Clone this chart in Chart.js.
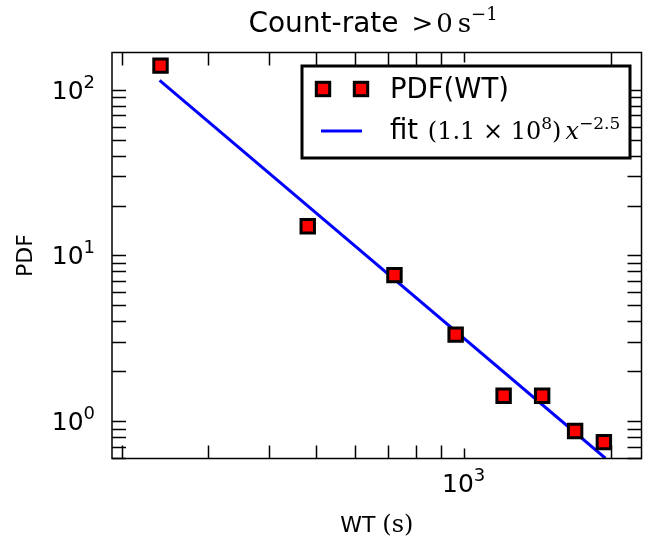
<!DOCTYPE html>
<html>
<head>
<meta charset="utf-8">
<script src="https://cdn.jsdelivr.net/npm/chart.js@4.4.1/dist/chart.umd.min.js"></script>
<style>
  html, body { margin: 0; padding: 0; background: #fff; }
  #wrap { width: 654px; height: 539px; }
</style>
</head>
<body>
<div id="wrap"><canvas id="chart" width="654" height="539"></canvas></div>
<script>
// Data
const waitTimes = [240, 480, 722, 963, 1207, 1447, 1690, 1935];
const pdfValues = [140, 15.0, 7.6, 3.32, 1.42, 1.42, 0.87, 0.745];
const fitTimes = [239, 1949];
const fitValues = [114, 0.595];

// Axis ticks
const xTicks = [200, 300, 400, 500, 600, 700, 800, 900, 1000, 2000];
const xMajor = [1000];
const yTicks = [0.6, 0.7, 0.8, 0.9, 1, 2, 3, 4, 5, 6, 7, 8, 9, 10, 20, 30, 40, 50, 60, 70, 80, 90, 100];
const yMajor = [1, 10, 100];

const SANS = '"DejaVu Sans", sans-serif';
const SERIF = '"DejaVu Serif", serif';

// draw a row of text pieces with different fonts / offsets
function drawRuns(ctx, runs, x, y, align) {
    let total = 0;
    runs.forEach(r => { ctx.font = r.font; r.w = ctx.measureText(r.t).width + (r.gap || 0); total += r.w; });
    let cx = align === 'center' ? x - total / 2 : (align === 'right' ? x - total : x);
    ctx.textAlign = 'left';
    ctx.textBaseline = 'alphabetic';
    runs.forEach(r => {
        ctx.font = r.font;
        ctx.fillText(r.t, cx, y + (r.dy || 0));
        cx += r.w;
    });
}

function powerLabel(exp) {
    return [
        { t: '10', font: '25px ' + SANS },
        { t: String(exp), font: '18px ' + SANS, dy: -11 }
    ];
}

// frame, ticks, labels, title and legend in matplotlib classic style
const decor = {
    id: 'decor',
    afterDatasetsDraw(chart) {
        const ctx = chart.ctx;
        const a = chart.chartArea;
        const xs = chart.scales.x, ys = chart.scales.y;
        ctx.save();
        ctx.strokeStyle = '#000';
        ctx.fillStyle = '#000';

        // ticks on all four sides, pointing in
        ctx.lineWidth = 1.5;
        ctx.beginPath();
        xTicks.forEach(v => {
            const px = Math.round(xs.getPixelForValue(v)) + 0.5;
            const len = xMajor.includes(v) ? 10 : 13;
            ctx.moveTo(px, a.bottom); ctx.lineTo(px, a.bottom - len);
            ctx.moveTo(px, a.top); ctx.lineTo(px, a.top + len);
        });
        yTicks.forEach(v => {
            const py = Math.round(ys.getPixelForValue(v)) + 0.5;
            ctx.moveTo(a.left, py); ctx.lineTo(a.left + 14, py);
            ctx.moveTo(a.right, py); ctx.lineTo(a.right - 14, py);
        });
        ctx.stroke();

        // frame
        ctx.lineWidth = 1.5;
        ctx.strokeRect(a.left, a.top, a.right - a.left, a.bottom - a.top);

        // tick labels
        yMajor.forEach(v => {
            const py = ys.getPixelForValue(v);
            drawRuns(ctx, powerLabel(Math.round(Math.log10(v))), 95, py + 9, 'right');
        });
        xMajor.forEach(v => {
            const px = xs.getPixelForValue(v);
            drawRuns(ctx, powerLabel(Math.round(Math.log10(v))), px, 492, 'center');
        });

        // axis titles
        drawRuns(ctx, [
            { t: 'WT ', font: '22px ' + SANS },
            { t: '(s)', font: '24px ' + SERIF }
        ], (a.left + a.right) / 2, 532, 'center');

        ctx.save();
        ctx.translate(32, (a.top + a.bottom) / 2);
        ctx.rotate(-Math.PI / 2);
        drawRuns(ctx, [{ t: 'PDF', font: '22px ' + SANS }], 0, 0, 'center');
        ctx.restore();

        // title
        drawRuns(ctx, [
            { t: 'Count-rate ', font: '28px ' + SANS, gap: 4 },
            { t: '>', font: '26px ' + SERIF, gap: 3 },
            { t: '0', font: '26px ' + SERIF, gap: 5 },
            { t: 's', font: '26px ' + SERIF },
            { t: '\u22121', font: '18px ' + SERIF, dy: -12 }
        ], 373, 32, 'center');

        // legend box
        ctx.fillStyle = '#fff';
        ctx.fillRect(302, 66, 328, 92);
        ctx.lineWidth = 3;
        ctx.strokeStyle = '#000';
        ctx.strokeRect(302, 66, 328, 92);

        [323, 361].forEach(mx => {
            ctx.fillStyle = '#ff0000';
            ctx.fillRect(mx - 6.7, 89 - 6.7, 13.4, 13.4);
            ctx.lineWidth = 3;
            ctx.strokeRect(mx - 6.7, 89 - 6.7, 13.4, 13.4);
        });
        ctx.strokeStyle = '#0000ff';
        ctx.lineWidth = 3;
        ctx.beginPath();
        ctx.moveTo(321, 131); ctx.lineTo(362, 131);
        ctx.stroke();

        ctx.fillStyle = '#000';
        drawRuns(ctx, [{ t: 'PDF(WT)', font: '27.5px ' + SANS }], 390, 98, 'left');
        drawRuns(ctx, [
            { t: 'fit ', font: '27.5px ' + SANS, gap: 1 },
            { t: '(1.1 \u00d7 10', font: '24px ' + SERIF },
            { t: '8', font: '17px ' + SERIF, dy: -10 },
            { t: ')', font: '24px ' + SERIF, gap: 4 },
            { t: 'x', font: 'italic 24px ' + SERIF },
            { t: '\u22122.5', font: '17px ' + SERIF, dy: -10 }
        ], 390, 139, 'left');

        ctx.restore();
    }
};

const ctx = document.getElementById('chart').getContext('2d');
const chart = new Chart(ctx, {
    type: 'scatter',
    data: {
        datasets: [
            {
                label: 'fit',
                type: 'line',
                data: fitTimes.map((t, i) => ({ x: t, y: fitValues[i] })),
                borderColor: '#0000ff',
                borderWidth: 3,
                pointRadius: 0,
                fill: false,
                order: 2
            },
            {
                label: 'PDF(WT)',
                data: waitTimes.map((t, i) => ({ x: t, y: pdfValues[i] })),
                pointStyle: 'rect',
                pointRadius: 9.5,
                pointHoverRadius: 9.5,
                backgroundColor: '#ff0000',
                borderColor: '#000000',
                borderWidth: 3,
                order: 1
            }
        ]
    },
    options: {
        responsive: false,
        animation: false,
        devicePixelRatio: 1,
        layout: { padding: { left: 112, right: 12, top: 52.5, bottom: 80.5 } },
        plugins: { legend: { display: false }, tooltip: { enabled: false } },
        scales: {
            x: { type: 'logarithmic', display: false, min: 191, max: 2310 },
            y: { type: 'logarithmic', display: false, min: 0.593, max: 168 }
        }
    },
    plugins: [decor]
});
</script>
</body>
</html>
